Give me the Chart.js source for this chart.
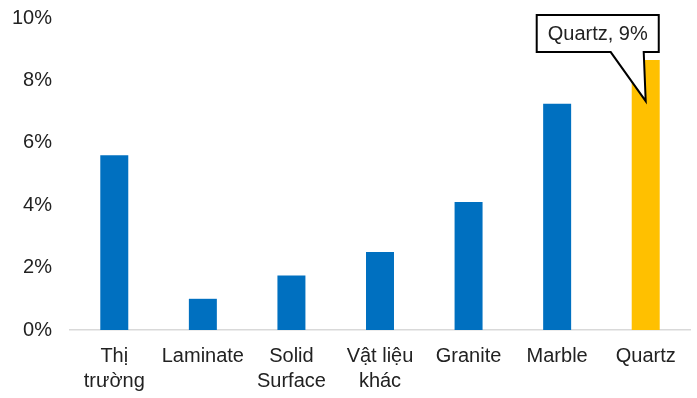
<!DOCTYPE html>
<html>
<head>
<meta charset="utf-8">
<script src="https://cdn.jsdelivr.net/npm/chart.js@4"></script>
<style>
  html, body { margin: 0; padding: 0; background: #fff; overflow: hidden; }
  #wrap { width: 697px; height: 398px; overflow: hidden; }
  #myChart { display: block; margin-top: -12px; }
</style>
</head>
<body>
<div id="wrap"><canvas id="myChart"></canvas></div>
<script>
const categories = [["Thị", "trường"], "Laminate", ["Solid", "Surface"], ["Vật liệu", "khác"], "Granite", "Marble", "Quartz"];
const growthValues = [5.6, 1.0, 1.75, 2.5, 4.1, 7.25, 8.65];
const barColors = ["#0070C0", "#0070C0", "#0070C0", "#0070C0", "#0070C0", "#0070C0", "#FFC000"];
const calloutText = "Quartz, 9%";
const calloutIndex = 6;

// callout box pointing into the Quartz bar
const calloutPlugin = {
  id: "callout",
  afterDatasetsDraw(chart) {
    const ctx = chart.ctx;
    const bar = chart.getDatasetMeta(0).data[calloutIndex];
    const tipX = bar.x;
    const tipY = bar.y + 41;
    ctx.save();
    ctx.font = "20px 'Liberation Sans', Arial, sans-serif";
    const w = ctx.measureText(calloutText).width + 22;
    const h = 37;
    const left = bar.x - 109;
    const top = bar.y - 45;
    ctx.beginPath();
    ctx.moveTo(left, top);
    ctx.lineTo(left + w, top);
    ctx.lineTo(left + w, top + h);
    ctx.lineTo(bar.x - 2, top + h);
    ctx.lineTo(tipX, tipY);
    ctx.lineTo(bar.x - 35, top + h);
    ctx.lineTo(left, top + h);
    ctx.closePath();
    ctx.fillStyle = "#fff";
    ctx.fill();
    ctx.lineWidth = 2;
    ctx.strokeStyle = "#000";
    ctx.stroke();
    ctx.fillStyle = "#222";
    ctx.textBaseline = "middle";
    ctx.fillText(calloutText, left + 11, top + h / 2 + 1);
    ctx.restore();
  }
};

const data = {
  labels: categories,
  datasets: [{
    data: growthValues,
    backgroundColor: barColors,
    categoryPercentage: 1.0,
    barPercentage: 0.316
  }]
};

const config = {
  type: "bar",
  data: data,
  plugins: [calloutPlugin],
  options: {
    responsive: false,
    animation: false,
    layout: { padding: { top: 0, right: 7, left: 8, bottom: 4 } },
    plugins: {
      legend: { display: false },
      tooltip: { enabled: false }
    },
    scales: {
      y: {
        min: 0,
        max: 10,
        afterFit: (scale) => { scale.width = 62; },
        ticks: {
          stepSize: 2,
          callback: (v) => v + "%",
          color: "#222",
          padding: 18,
          font: { family: "'Liberation Sans', Arial, sans-serif", size: 20 }
        },
        grid: { display: false, drawTicks: false },
        border: { display: false }
      },
      x: {
        afterFit: (scale) => { scale.height = 64; },
        ticks: {
          color: "#222",
          padding: 14,
          maxRotation: 0,
          autoSkip: false,
          font: { family: "'Liberation Sans', Arial, sans-serif", size: 20, lineHeight: 1.25 }
        },
        grid: { display: false, drawTicks: false },
        border: { display: true, color: "#D9D9D9", width: 1.5 }
      }
    }
  }
};

const canvas = document.getElementById("myChart");
canvas.width = 697;
canvas.height = 410;
new Chart(canvas, config);
</script>
</body>
</html>
